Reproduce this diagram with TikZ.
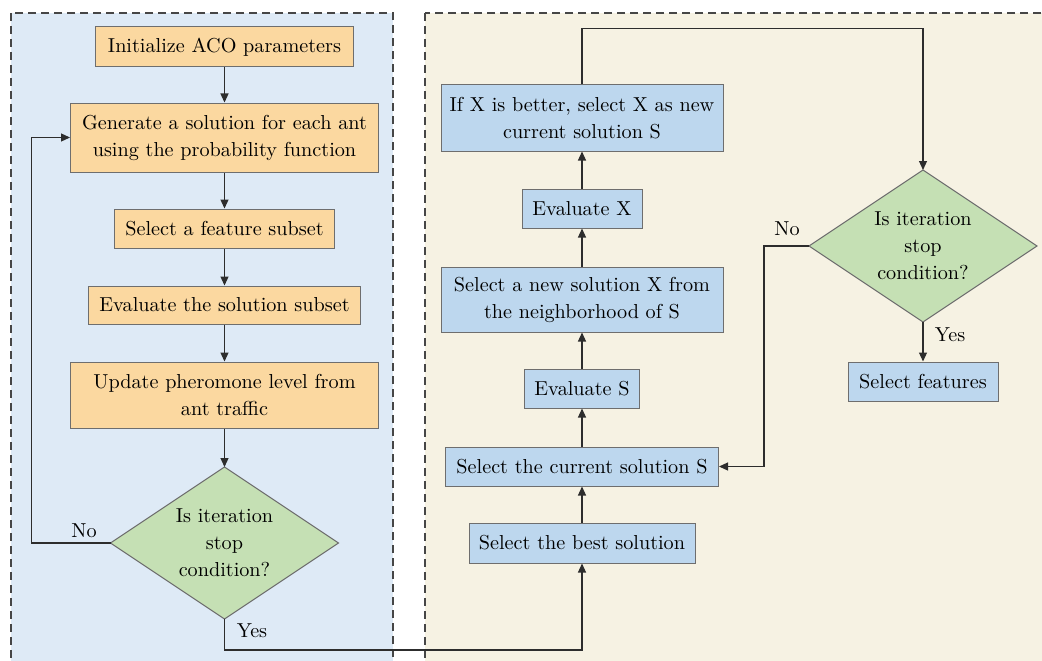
\documentclass[tikz,border=0pt]{standalone}
\usepackage{fontspec}
\setmainfont{lmroman10-regular.otf}
\usetikzlibrary{arrows.meta}
\definecolor{leftbg}{RGB}{222,234,246}
\definecolor{rightbg}{RGB}{246,242,227}
\definecolor{orangebox}{RGB}{251,216,160}
\definecolor{greenbox}{RGB}{197,224,180}
\definecolor{bluebox}{RGB}{189,215,238}
\definecolor{edgegray}{RGB}{110,110,110}
\definecolor{linegray}{RGB}{45,45,45}
\definecolor{dashgray}{RGB}{70,70,70}
\begin{document}
\begin{tikzpicture}[x=1pt,y=-1pt,
  font=\rmfamily\fontsize{20.2}{27}\selectfont,
  panel/.style={draw=dashgray,line width=1.4pt,dash pattern=on 8pt off 5pt},
  obox/.style={draw=edgegray,line width=1pt,fill=orangebox,inner sep=0pt,align=center},
  bbox/.style={draw=edgegray,line width=1pt,fill=bluebox,inner sep=0pt,align=center},
  dshape/.style={draw=edgegray,line width=1pt,fill=greenbox},
  conn/.style={draw=linegray,line width=1.2pt,-{Triangle[length=9pt,width=8pt]}},
  lbl/.style={inner sep=0pt}]
\useasboundingbox (0,0) rectangle (1042,661);
\clip (0,0) rectangle (1042,661);
% panels
\fill[white] (0,0) rectangle (1042,661);
\path[panel,fill=leftbg] (11,13) rectangle (393,690);
\path[panel,fill=rightbg] (425,13) rectangle (1070,690);

% left column
\node[obox,minimum width=258pt,minimum height=40pt] (init) at (224.5,47) {Initialize ACO parameters};
\node[obox,minimum width=308pt,minimum height=69pt] (gen) at (224.5,137.5) {Generate a solution for each ant\\using the probability function};
\node[obox,minimum width=220pt,minimum height=39pt] (feat) at (224.5,228.5) {Select a feature subset};
\node[obox,minimum width=272pt,minimum height=38pt] (evalsub) at (224.5,305) {Evaluate the solution subset};
\node[obox,minimum width=308pt,minimum height=66pt] (upd) at (224.5,395) {Update pheromone level from\\ant traffic};
\coordinate (d1) at (224.5,543);
\path[dshape] (d1) ++(0,-76) coordinate (d1n) -- ++(114,76) coordinate (d1e) -- ++(-114,76) coordinate (d1s) -- ++(-114,-76) coordinate (d1w) -- cycle;
\node[align=center,inner sep=0pt] (d1t) at (d1) {Is iteration\\stop\\condition?};

% right column
\node[bbox,minimum width=282pt,minimum height=66pt] (ifx) at (582,118) {If X is better, select X as new\\current solution S};
\node[bbox,minimum width=120pt,minimum height=39pt] (evx) at (582,208.5) {Evaluate X};
\node[bbox,minimum width=282pt,minimum height=65pt] (newx) at (582,299.5) {Select a new solution X from\\the neighborhood of S};
\node[bbox,minimum width=115pt,minimum height=39pt] (evs) at (582,388.5) {Evaluate S};
\node[bbox,minimum width=273pt,minimum height=39pt] (cur) at (582,466.5) {Select the current solution S};
\node[bbox,minimum width=226pt,minimum height=40pt] (best) at (582,543) {Select the best solution};
\coordinate (d2) at (923,246);
\path[dshape] (d2) ++(0,-76) coordinate (d2n) -- ++(114,76) coordinate (d2e) -- ++(-114,76) coordinate (d2s) -- ++(-114,-76) coordinate (d2w) -- cycle;
\node[align=center,inner sep=0pt] (d2t) at (d2) {Is iteration\\stop\\condition?};
\node[bbox,minimum width=150pt,minimum height=39pt] (feats) at (923,381.5) {Select features};

% left connectors
\draw[conn] (init.south) -- (gen.north);
\draw[conn] (gen.south) -- (feat.north);
\draw[conn] (feat.south) -- (evalsub.north);
\draw[conn] (evalsub.south) -- (upd.north);
\draw[conn] (upd.south) -- (d1n);
\draw[conn] (d1w) -- ++(-79,0) |- (gen.west);
\draw[conn] (d1s) -- ++(0,31) -| (best.south);

% right connectors
\draw[conn] (best.north) -- (cur.south);
\draw[conn] (cur.north) -- (evs.south);
\draw[conn] (evs.north) -- (newx.south);
\draw[conn] (newx.north) -- (evx.south);
\draw[conn] (evx.north) -- (ifx.south);
\draw[conn] (ifx.north) -- ++(0,-56) -| (d2n);
\draw[conn] (d2w) -- ++(-45,0) |- (cur.east);
\draw[conn] (d2s) -- (feats.north);

% labels
\node[lbl] (no1) at (84,531) {No};
\node[lbl] (yes1) at (252,631) {Yes};
\node[lbl] (no2) at (787,229) {No};
\node[lbl] (yes2) at (950,335) {Yes};
\end{tikzpicture}
\end{document}
